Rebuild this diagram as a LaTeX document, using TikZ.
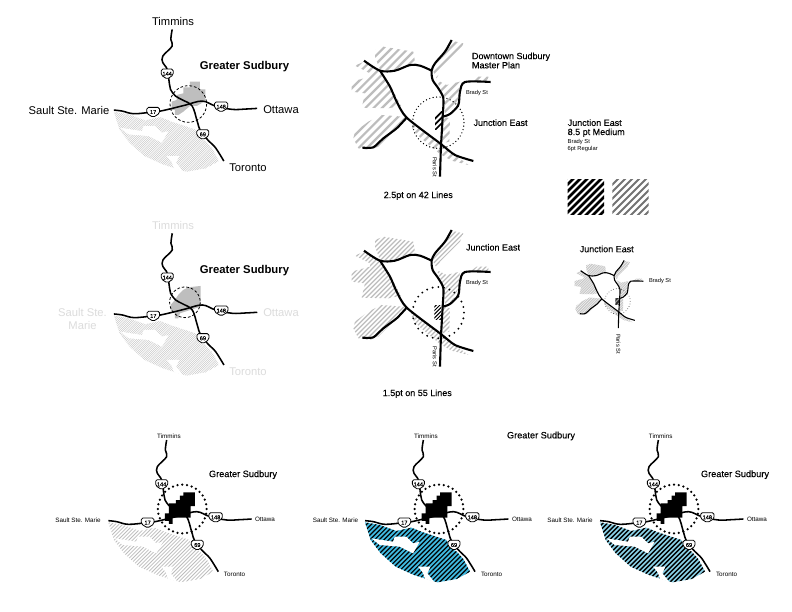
\documentclass[tikz,border=0pt]{standalone}
\usepackage{fontspec}
\setmainfont{Liberation Sans}
\newfontfamily\medfont[FakeBold=0.2]{Liberation Sans}
\definecolor{lightlabel}{HTML}{DCDCDC}
\definecolor{urbangray}{HTML}{BEBEBE}
\definecolor{hatchgray}{HTML}{BDBDBD}
\definecolor{seablue}{HTML}{3FB9E0}
\definecolor{paleblue}{HTML}{8AD2E8}
\newcommand{\fsz}[1]{\fontsize{#1bp}{#1bp}\selectfont}
\tikzset{
  road/.style={line width=#1,line join=round,line cap=butt},
  road/.default=1.55bp,
  txt/.style={inner sep=0pt,outer sep=0pt,anchor=center,align=center},
  shieldbox/.style={draw=black,fill=white,line width=.8bp,rounded corners=1.6bp,line join=round},
  shieldtxt/.style={inner sep=0pt,font=\medfont\fsz{5.6}},
  dashring/.style={draw=black,line width=.8bp,dash pattern=on 2.6bp off 2bp},
}
% ring of round dots: cx, cy, radius, number of dots, dot radius
\newcommand{\dotsring}[5]{%
  \pgfmathsetmacro{\dstep}{360/#4}
  \foreach \n in {1,...,#4} {\fill[black] ({#1+#3*cos(\n*\dstep)},{#2+#3*sin(\n*\dstep)}) circle[radius=#5];}
}
% shield: prefix, x, y, half width, text
\newcommand{\shieldat}[5]{%
  \draw[shieldbox] (#2-#4,#3-14)--(#2+#4,#3-14)--(#2+#4,#3+4)--(#2,#3+16)--(#2-#4,#3+4)--cycle;
  \node[shieldtxt] (#1) at (#2,#3) {#5};
}
% regional map: prefix, origin x, origin y, forest background, hatch colour, hatch width, hatch step, urban+ring code
\newcommand{\regional}[8]{%
\begin{scope}[shift={(#2,#3)},x=.33333bp,y=-.33333bp]
  \def\forestpoly{(205,292) -- (250,300) -- (299,318) -- (344,308) -- (379,322) -- (449,345) -- (462,370) -- (480,380) -- (500,402) -- (520,440) -- (480,462) -- (422,472) -- (352,450) -- (297,425) -- (252,385) -- (222,345) -- cycle}
  \begin{scope}
    \fill[#4] \forestpoly;
    \clip \forestpoly;
    \pgfmathsetmacro{\secondc}{480+#7}
    \foreach \c in {480,\secondc,...,1040} {\draw[#5,line width=#6] (\c-100,100)--(\c-600,600);}
  \end{scope}
  \fill[white] (224,340)--(289,350)--(294,335)--(329,335)--(349,355)--(369,350)--(349,385)--(309,365)--(249,360)--cycle;
  \fill[white] (364,425)--(401,425)--(392,445)--(412,470)--(385,462)--(378,442)--cycle;
  #8
  \draw[road] plot[smooth,tension=.6] coordinates {(380,45)(376,75)(380,95)(352,125)(352,145)(365,165)(372,210)(375,225)(390,245)(412,257)(440,275)(455,320)(465,350)(490,380)(510,400)(535,440)};
  \draw[road] plot[smooth,tension=.6] coordinates {(205,287)(230,290)(265,298)(320,293)(345,290)(380,282)(420,272)(470,260)(510,275)(560,285)(600,284)(635,282)};
  \shieldat{#1a}{365}{178}{18}{144}
  \shieldat{#1b}{323}{293}{19}{17}
  \shieldat{#1c}{527}{277}{20}{148}
  \shieldat{#1d}{472}{360}{18}{69}
\end{scope}}
% junction map: origin x, y, unit, road width, grey hatch colour, width, step, ring code, black hatch code
\newcommand{\junction}[9]{%
\begin{scope}[shift={(#1,#2)},x=#3,y=-#3]
  \begin{scope}
    \clip (105,60)--(130,50)--(220,65)--(225,95)--(205,105)--(170,120)--(120,120)--(105,80)--cycle
      (335,32)--(370,40)--(360,65)--(300,125)--(290,145)--(280,125)--(280,115)--(300,85)--cycle
      (290,150)--(320,165)--(360,155)--(355,205)--(340,240)--(315,255)--(312,205)--cycle
      (390,155)--(410,140)--(445,140)--(445,155)--cycle
      (45,107)--(77,93)--(120,125)--(150,165)--(183,227)--(145,235)--(65,233)--(75,190)--(35,185)--(35,155)--(90,140)--(90,130)--cycle
      (190,260)--(125,255)--(85,275)--(45,305)--(40,325)--(55,355)--(90,360)--(115,350)--(200,265)--cycle
      (212,275)--(300,345)--(345,375)--(385,405)--(335,392)--(300,372)--(240,322)--(218,298)--cycle
      (310,260)--(330,265)--(328,335)--(306,340)--cycle;
    \foreach \c in {60,#7,...,840} {\draw[#5,line width=#6] (\c,0)--(\c-520,520);}
  \end{scope}
  #8
  #9
  \draw[road=#4] plot[smooth,tension=.5] coordinates {(335,30)(315,65)(285,100)(275,122)(278,150)(295,175)(310,205)(308,260)(303,345)};
  \draw[road=#4] (303,340)--(300,440);
  \draw[road=#4] plot[smooth,tension=.5] coordinates {(72,92)(120,122)(165,122)(210,105)(240,107)(275,122)};
  \draw[road=#4] plot[smooth,tension=.4] coordinates {(120,122)(150,170)(170,215)(200,263)(300,340)(345,375)(400,393)};
  \draw[road=#4] plot[smooth,tension=.4] coordinates {(200,263)(170,295)(130,325)(100,352)(67,353)};
  \draw[road=#4] plot[smooth,tension=.5] coordinates {(452,156)(375,156)(360,185)(355,225)(330,252)(308,260)};
\end{scope}}
\begin{document}
\begin{tikzpicture}[x=1bp,y=-1bp]
\useasboundingbox[fill=white] (0,0) rectangle (792,612);

% ---- top regional
\regional{ta}{45.5}{14.4}{white}{hatchgray}{.35bp}{6.5}{%
  \fill[urbangray] (433.5,201.8)--(463.5,201.8)--(463.5,224.8)--(479.5,224.8)--(479.5,259.8)--(453.5,274.8)--(433.5,274.8)--(413.5,291.8)--(398.5,301.8)--(388.5,301.8)--(388.5,286.8)--(378.5,286.8)--(378.5,261.8)--(393.5,256.8)--(393.5,241.8)--(413.5,236.8)--(413.5,218.8)--(433.5,218.8)--cycle;
  \draw[dashring] (428.5,268.8) circle[radius=55];}
\node[txt,font=\fsz{11.2}] (t1) at (173,21.5) {Timmins};
\node[txt,font=\bfseries\fsz{11.3}] (t2) at (244.5,67) {Greater Sudbury};
\node[txt,font=\fsz{11.2}] (t3) at (69,110) {Sault Ste. Marie};
\node[txt,font=\fsz{11.2}] (t4) at (281,110) {Ottawa};
\node[txt,font=\fsz{11.2}] (t5) at (248,168) {Toronto};

% ---- middle regional
\regional{mb}{45.6}{218.3}{white}{hatchgray}{.35bp}{6.5}{%
  \fill[urbangray] (413,215)--(428,207)--(465,203)--(465,265)--(403,285)--(398,300)--(388,300)--(388,285)--(375,275)--(375,260)--(388,245)--(398,230)--cycle;
  \draw[dashring] (418,252) circle[radius=46];}
\node[txt,font=\fsz{11.2},text=lightlabel] (m1) at (173,225) {Timmins};
\node[txt,font=\bfseries\fsz{11.3}] (m2) at (244.5,271) {Greater Sudbury};
\node[txt,font=\fsz{11.2},text=lightlabel] (m3) at (82.5,318.5) {Sault Ste.\\[1.8bp]Marie};
\node[txt,font=\fsz{11.2},text=lightlabel] (m4) at (281,313) {Ottawa};
\node[txt,font=\fsz{11.2},text=lightlabel] (m5) at (248,372) {Toronto};

% ---- bottom regional
\def\blackurban{%
  \fill[black] (430,202)--(465,202)--(465,243)--(452,243)--(452,278)--(398,278)--(398,297)--(387,297)--(387,288)--(375,288)--(375,265)--(387,265)--(387,235)--(408,235)--(408,225)--(420,225)--(420,212)--(430,212)--cycle;
  \dotsring{427}{252}{73}{32}{1.25bp}}
\regional{ba}{40}{425}{white}{hatchgray}{.8bp}{11}{\blackurban}
\regional{bb}{296.7}{425}{seablue}{black}{1.15bp}{14}{\blackurban}
\regional{bc}{531.7}{425}{paleblue}{black}{1.4bp}{14}{\blackurban}

\node[txt,font=\fsz{6.3}] (b1) at (169,436) {Timmins};
\node[txt,font=\medfont\fsz{9.2}] (b2) at (243,474.7) {Greater Sudbury};
\node[txt,font=\fsz{6.3}] (b3) at (78,520) {Sault Ste. Marie};
\node[txt,font=\fsz{6.3}] (b4) at (265,519.5) {Ottawa};
\node[txt,font=\fsz{6.3}] (b5) at (234.5,574.7) {Toronto};

\node[txt,font=\fsz{6.3}] (c1) at (426,436) {Timmins};
\node[txt,font=\medfont\fsz{9.2}] (c2) at (541,436) {Greater Sudbury};
\node[txt,font=\fsz{6.3}] (c3) at (335.5,520) {Sault Ste. Marie};
\node[txt,font=\fsz{6.3}] (c4) at (522,519.5) {Ottawa};
\node[txt,font=\fsz{6.3}] (c5) at (491.5,574.7) {Toronto};

\node[txt,font=\fsz{6.3}] (d1) at (660.7,436) {Timmins};
\node[txt,font=\medfont\fsz{9.2}] (d2) at (735,474.7) {Greater Sudbury};
\node[txt,font=\fsz{6.3}] (d3) at (570,520) {Sault Ste. Marie};
\node[txt,font=\fsz{6.3}] (d4) at (757,519.5) {Ottawa};
\node[txt,font=\fsz{6.3}] (d5) at (726.5,574.7) {Toronto};

% ---- junction maps
\junction{340}{30}{.33333bp}{2.1bp}{hatchgray}{2.2bp}{85}{\dotsring{295}{278}{77}{46}{.7bp}}{%
  \begin{scope}
    \clip (285,244) rectangle (308,298);
    \foreach \c in {551,568,585} {\draw[black,line width=1.7bp] (\c,0)--(\c-400,400);}
  \end{scope}}
\node[txt,anchor=west,align=left,font=\medfont\fsz{9}] (j1) at (472,60.5) {Downtown Sudbury\\[.2bp]Master Plan};
\node[txt,anchor=west,font=\medfont\fsz{9}] (j2) at (473.5,122.7) {Junction East};
\node[txt,anchor=west,font=\fsz{5.7}] (j3) at (466,92.7) {Brady St};
\node[txt,rotate=-90,font=\fsz{5.7}] (j4) at (435,167) {Paris St};
\node[txt,font=\medfont\fsz{9}] (j5) at (418.3,195.7) {2.5pt on 42 Lines};

\junction{340}{220}{.33333bp}{2.1bp}{hatchgray}{1.2bp}{74}{\dotsring{295}{278}{77}{28}{1.05bp}}{%
  \begin{scope}
    \clip (283,258) rectangle (304,300);
    \foreach \c in {500,511,...,660} {\draw[black,line width=1bp] (\c,0)--(\c-400,400);}
  \end{scope}}
\node[txt,anchor=west,font=\medfont\fsz{9}] (k2) at (466,247.3) {Junction East};
\node[txt,anchor=west,font=\fsz{5.7}] (k3) at (466,282.7) {Brady St};
\node[txt,rotate=-90,font=\fsz{5.7}] (k4) at (435,356.7) {Paris St};
\node[txt,font=\medfont\fsz{9}] (k5) at (417.3,393.7) {1.5pt on 55 Lines};

\junction{568.8}{255.5}{.165bp}{1.1bp}{hatchgray}{.55bp}{70}{\dotsring{295}{278}{77}{30}{.38bp}}{%
  \begin{scope}
    \clip (283,258) rectangle (304,300);
    \foreach \c in {500,508,...,660} {\draw[black,line width=.5bp] (\c,0)--(\c-400,400);}
  \end{scope}}
\node[txt,font=\medfont\fsz{9}] (s2) at (606.7,249) {Junction East};
\node[txt,anchor=west,font=\fsz{5.7}] (s3) at (649,280.7) {Brady St};
\node[txt,rotate=-90,font=\fsz{5.7}] (s4) at (618.3,344) {Paris St};

% ---- legend
\node[txt,anchor=west,font=\medfont\fsz{9}] (l1) at (567.7,122.7) {Junction East};
\node[txt,anchor=west,font=\medfont\fsz{9}] (l2) at (567.7,132.7) {8.5 pt Medium};
\node[txt,anchor=west,font=\fsz{5.8}] (l3) at (567.7,141.7) {Brady St};
\node[txt,anchor=west,font=\fsz{5.8}] (l4) at (567.7,149.3) {6pt Regular};
\begin{scope}
  \clip (567.7,180) rectangle (604,215);
  \foreach \c in {745,752,...,825} {\draw[black,line width=2.5bp] (\c-170,170)--(\c-220,220);}
\end{scope}
\begin{scope}
  \clip (612.3,180) rectangle (648.7,215);
  \foreach \c in {790,797,...,870} {\draw[black!55,line width=2bp] (\c-170,170)--(\c-220,220);}
\end{scope}
\end{tikzpicture}
\end{document}
